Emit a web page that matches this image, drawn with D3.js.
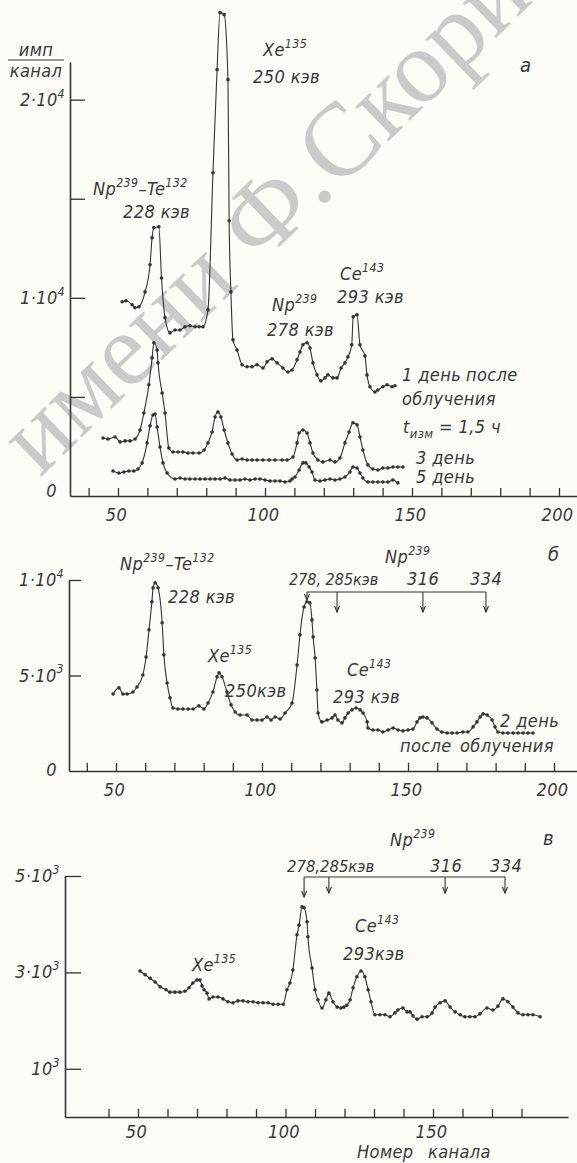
<!DOCTYPE html>
<html>
<head>
<meta charset="utf-8">
<script src="https://cdn.jsdelivr.net/npm/d3@7"></script>
<style>
body { margin: 0; background: #fdfcf7; }
svg { display: block; }
text { font-family: "DejaVu Sans Condensed", "DejaVu Sans", sans-serif; font-stretch: condensed; font-style: italic; fill: #383838; letter-spacing: 0.4px; }
.wm text { font-family: "Liberation Serif", serif; font-stretch: normal; font-style: normal; fill: #cacaca; letter-spacing: 0; }
</style>
</head>
<body>
<svg id="chart" width="577" height="1163"></svg>
<script>
// ---- data: [channel, counts per channel] ----
var aDay1 = [[51.4,9800],[52.7,9850],[54.8,9650],[55.8,9500],[57.1,9550],[59.2,10300],[60.9,11670],[61.6,13030],[62.2,13540],[63.9,13590],[64.8,11000],[66.0,9000],[67.7,8230],[69.4,8380],[71.1,8380],[72.8,8540],[74.5,8590],[76.2,8540],[77.6,8540],[78.9,8540],[80.6,9390],[82.3,16310],[83.7,21520],[84.7,24390],[86.1,24290],[87.4,21010],[87.8,13890],[88.4,10300],[89.1,7880],[90.5,7370],[92.2,6620],[93.9,6520],[95.6,6520],[97.3,6620],[99.3,6460],[100.7,6770],[102.4,6920],[104.1,6720],[106.1,6460],[107.8,6260],[109.2,6360],[110.9,6870],[111.9,7270],[112.9,7630],[114.3,7730],[115.3,7470],[116.3,6720],[117.7,6110],[119.0,5810],[120.4,5960],[121.4,6110],[123.1,5960],[124.5,5960],[125.9,6460],[127.2,6720],[128.2,7020],[129.5,7630],[130.0,9040],[131.3,9140],[132.3,7630],[134.0,7070],[134.7,6110],[135.7,5510],[137.4,5250],[138.4,5350],[140.1,5510],[141.5,5610],[143.2,5510],[144.2,5560]];

var aDay3 = [[44.9,2930],[46.6,2880],[49.0,2980],[50.7,2730],[52.4,2780],[54.1,2780],[55.8,2880],[57.5,3330],[58.8,4190],[60.5,5610],[61.6,6970],[62.2,7730],[63.3,7370],[63.6,6720],[65.0,5200],[66.0,4190],[67.3,2420],[68.7,2220],[70.4,2220],[72.1,2220],[73.8,2170],[75.5,2170],[77.6,2170],[79.3,2320],[80.6,2680],[82.0,3230],[83.0,3990],[84.0,4240],[85.0,3990],[86.1,3330],[87.4,2680],[88.8,2120],[90.5,1820],[92.2,1870],[93.9,1820],[95.6,1820],[97.3,1820],[99.3,1820],[101.4,1820],[103.4,1820],[105.8,1820],[107.5,1820],[109.5,1970],[110.9,2680],[111.6,3180],[112.9,3330],[114.3,3180],[115.3,2680],[116.3,2170],[118.0,1820],[119.7,1720],[122.1,1820],[123.8,1720],[125.5,1920],[127.2,2680],[128.6,3230],[129.9,3690],[131.3,3590],[132.3,2980],[133.3,2320],[135.0,1570],[136.7,1360],[138.4,1310],[140.1,1410],[141.8,1410],[143.5,1460],[145.2,1460],[146.9,1460]];

var aDay5 = [[48.3,1260],[50.3,1160],[52.0,1210],[53.7,1260],[55.4,1260],[56.8,1360],[58.2,1670],[59.9,2680],[60.9,3540],[61.9,4090],[62.6,4140],[63.3,3480],[64.3,2470],[65.3,1670],[66.7,1160],[69.4,860],[71.1,910],[72.8,860],[74.5,860],[76.2,860],[77.9,860],[79.6,860],[81.3,860],[83.0,860],[84.7,860],[86.4,910],[88.1,810],[89.8,810],[91.5,810],[93.2,860],[94.9,810],[96.6,860],[98.3,860],[100.0,810],[101.7,760],[103.4,760],[105.1,760],[106.8,710],[108.5,760],[109.2,860],[110.2,960],[111.6,1310],[112.9,1670],[113.9,1670],[115.0,1460],[116.0,1210],[117.0,810],[118.7,760],[120.4,810],[122.1,860],[123.8,810],[125.5,860],[127.2,960],[128.9,1210],[129.9,1460],[131.3,1410],[132.3,1160],[133.3,910],[135.0,710],[136.7,710],[138.4,710],[140.1,710],[141.8,710],[143.5,810],[145.2,660]];

var bDay2 = [[49.0,4030],[51.0,4350],[52.4,4030],[53.8,4030],[55.8,4140],[57.2,4400],[59.2,5030],[60.3,5970],[61.3,7390],[62.3,8860],[62.7,9590],[63.4,9850],[64.4,9590],[65.8,7760],[66.4,6080],[67.5,4610],[68.5,3830],[69.5,3300],[71.2,3250],[72.9,3250],[74.7,3250],[76.4,3250],[78.4,3410],[80.1,3250],[81.5,3560],[83.2,4140],[84.6,4930],[85.3,5140],[86.3,4930],[88.0,4140],[89.4,3460],[90.8,3090],[92.5,2930],[94.9,2930],[96.6,2670],[98.3,2670],[100.0,2670],[101.7,2830],[103.1,2670],[104.5,2830],[106.2,2720],[107.9,3040],[110.3,3560],[112.0,5550],[113.0,7130],[114.4,8590],[115.4,8860],[116.4,8800],[117.1,7910],[117.5,7020],[118.2,5920],[118.8,4240],[119.2,3040],[120.5,2570],[122.3,2670],[124.0,2780],[125.0,2930],[126.0,2670],[127.4,2520],[128.4,2780],[129.5,3040],[130.8,3200],[132.2,3300],[133.6,3200],[134.6,3040],[136.0,2570],[136.3,2250],[138.0,2150],[139.7,2150],[141.4,2040],[143.2,2150],[144.9,2250],[146.6,2150],[148.3,2100],[150.0,2150],[151.7,2200],[153.1,2570],[154.1,2780],[155.1,2830],[156.5,2780],[158.2,2520],[159.9,2200],[161.6,2040],[163.4,1990],[165.1,1990],[166.8,1990],[168.8,2040],[170.5,2040],[172.3,2310],[173.6,2570],[174.7,2830],[175.7,2990],[177.1,2930],[178.8,2670],[179.8,2310],[180.8,2040],[182.5,1990],[184.2,1990],[186.0,1990],[187.7,1990],[189.4,1990],[191.1,1990],[192.8,1990]];

var cSpec = [[50.7,3030],[52.4,2950],[54.1,2880],[55.8,2800],[57.5,2700],[59.5,2640],[60.8,2590],[62.5,2590],[64.2,2590],[65.9,2610],[67.3,2680],[68.6,2780],[70.0,2840],[71.0,2840],[71.7,2720],[72.4,2640],[73.4,2570],[74.1,2450],[75.4,2490],[77.1,2490],[78.8,2450],[80.5,2390],[82.2,2370],[83.9,2410],[85.6,2410],[87.3,2390],[89.0,2390],[90.7,2370],[92.4,2370],[94.1,2370],[95.8,2340],[97.5,2340],[99.2,2340],[100.5,2640],[101.5,2780],[102.5,3050],[103.9,3780],[104.6,3980],[105.6,4360],[106.3,4340],[107.3,4050],[107.6,3740],[109.0,3090],[110.0,2640],[111.0,2430],[112.4,2260],[113.7,2430],[114.7,2570],[116.1,2390],[117.5,2280],[118.8,2260],[119.8,2280],[120.8,2320],[121.9,2430],[122.9,2680],[124.2,2910],[125.6,3030],[126.9,2910],[128.0,2640],[129.0,2390],[130.3,2120],[132.0,2120],[133.7,2120],[135.4,2080],[137.1,2160],[138.1,2220],[139.8,2260],[141.2,2180],[142.2,2180],[143.2,2100],[144.6,2030],[146.3,2080],[148.0,2080],[149.7,2160],[150.7,2280],[152.4,2370],[154.1,2410],[155.8,2280],[157.5,2180],[159.2,2120],[160.8,2080],[162.5,2080],[164.2,2080],[165.9,2140],[168.3,2260],[170.3,2220],[172.0,2300],[173.7,2450],[175.4,2390],[177.1,2280],[178.8,2160],[180.5,2120],[182.2,2120],[183.9,2120],[186.3,2080]];

// Np239 line positions (channels) marked with arrows in panels б and в
var bArrows = [115.4, 125.7, 155.1, 176.7];
var cArrows = [106.3, 114.7, 154.1, 174.4];

var xTicksAB = [40,50,60,70,80,90,100,110,120,130,140,150,160,170,180,190,200];
var xTicksC = [40,50,60,70,80,90,100,110,120,130,140,150,160,170,180];
var yTicksA = [5000,10000,15000,20000];
var yTicksB = [5000,10000];
var yTicksC = [1000,3000,5000];
var yLabA = [[10000,"1·10","4"],[20000,"2·10","4"]];
var yLabB = [[5000,"5·10","3"],[10000,"1·10","4"]];
var yLabC = [[1000,"10","3"],[3000,"3·10","3"],[5000,"5·10","3"]];

var svg = d3.select("#chart");
var ink = "#333";
var fsz = 18;

// watermark of the scanned page
var wm = svg.append("g").attr("class","wm").attr("transform","translate(40,478) rotate(-44)");
wm.append("text").attr("x",-28).attr("y",0).attr("text-anchor","end").attr("font-size",104).text("ГГУ");
wm.append("text").attr("x",0).attr("y",0).attr("font-size",104).text("имени Ф.Скорины");

function rich(x, y, segs, size, anchor) {
  size = size || fsz;
  var t = svg.append("text").attr("x", x).attr("y", y)
    .attr("font-size", size).attr("text-anchor", anchor || "start");
  var shift = 0;
  segs.forEach(function(s) {
    var target = 0, txt = s, fs = size;
    if (s[0] == "^") { target = -0.45 * size; txt = s.slice(1); fs = 0.68 * size; }
    else if (s[0] == "_") { target = 0.3 * size; txt = s.slice(1); fs = 0.72 * size; }
    t.append("tspan").attr("dy", target - shift).attr("font-size", fs).text(txt);
    shift = target;
  });
  return t;
}

function panel(p) {
  var x = d3.scaleLinear().domain(p.xDom).range(p.xRange);
  var y = d3.scaleLinear().domain(p.yDom).range(p.yRange);

  var xAxis = d3.axisBottom(x).tickValues(p.xTicks).tickSize(-8).tickSizeOuter(0).tickPadding(p.xPad)
    .tickFormat(function(d) { return d % 50 == 0 ? d : ""; });
  var yAxis = d3.axisLeft(y).tickValues(p.yTicks).tickSize(-p.yTick).tickSizeOuter(0).tickFormat("");

  var gx = svg.append("g").attr("transform", "translate(0," + p.yRange[0] + ")").call(xAxis);
  var gy = svg.append("g").attr("transform", "translate(" + p.xRange[0] + ",0)").call(yAxis);
  [gx, gy].forEach(function(g) {
    g.select(".domain").attr("stroke", ink).attr("stroke-width", 1.6);
    g.selectAll(".tick line").attr("stroke", ink).attr("stroke-width", 1.3);
    g.selectAll(".tick text").attr("font-size", fsz).attr("fill", "#383838")
      .attr("font-family", null).attr("dx", -2);
  });

  p.yLab.forEach(function(l) {
    rich(p.xRange[0] - 5, y(l[0]) + 6, [l[1], "^" + l[2]], fsz, "end");
  });

  var line = d3.line().x(function(d) { return x(d[0]); }).y(function(d) { return y(d[1]); })
    .curve(d3.curveMonotoneX);
  p.series.forEach(function(s) {
    svg.append("path").datum(s).attr("d", line)
      .attr("fill", "none").attr("stroke", ink).attr("stroke-width", 1.1);
    svg.append("g").selectAll("circle").data(s).enter().append("circle")
      .attr("cx", function(d) { return x(d[0]); })
      .attr("cy", function(d) { return y(d[1]); })
      .attr("r", 1.8).attr("fill", ink);
  });

  if (p.arrows) {
    var by = p.bracketY;
    svg.append("line").attr("x1", x(p.arrows[0])).attr("x2", x(p.arrows[p.arrows.length - 1]))
      .attr("y1", by).attr("y2", by).attr("stroke", ink).attr("stroke-width", 1.1);
    p.arrows.forEach(function(c, i) {
      var ax = x(c), tip = by + (i == 0 ? p.firstLen : p.arrowLen);
      svg.append("line").attr("x1", ax).attr("x2", ax).attr("y1", by).attr("y2", tip)
        .attr("stroke", ink).attr("stroke-width", 1.1);
      svg.append("path").attr("d", "M" + (ax - 2.5) + "," + (tip - 6) + "L" + ax + "," + tip + "L" + (ax + 2.5) + "," + (tip - 6))
        .attr("fill", "none").attr("stroke", ink).attr("stroke-width", 1.1);
    });
  }
  return { x: x, y: y };
}

// ---- panel а ----
panel({
  xDom: [50 + (70 - 118) / 2.94, 50 + (577 - 118) / 2.94], xRange: [70, 577],
  yDom: [0, 21900], yRange: [496, 62],
  xTicks: xTicksAB, yTicks: yTicksA, yTick: 15, xPad: 12, yLab: yLabA,
  series: [aDay1, aDay3, aDay5]
});
svg.append("text").attr("x", 36).attr("y", 56).attr("font-size", fsz).attr("text-anchor", "middle").text("имп");
svg.append("line").attr("x1", 8).attr("x2", 64).attr("y1", 60).attr("y2", 60).attr("stroke", ink).attr("stroke-width", 1.2);
svg.append("text").attr("x", 36).attr("y", 77).attr("font-size", fsz).attr("text-anchor", "middle").text("канал");
rich(57, 497, ["0"], fsz, "end");
rich(93, 195, ["Np", "^239", "–Te", "^132"]);
rich(123, 218, ["228 кэв"]);
rich(263, 56, ["Xe", "^135"]);
rich(253, 83, ["250 кэв"]);
rich(520, 72, ["а"], 20);
rich(272, 311, ["Np", "^239"]);
rich(267, 336, ["278 кэв"]);
rich(340, 280, ["Ce", "^143"]);
rich(337, 303, ["293 кэв"]);
rich(402, 381, ["1 день"]);
rich(466, 381, ["после"]);
rich(402, 405, ["облучения"]);
rich(403, 433, ["t", "_изм", " = 1,5 ч"]);
rich(416, 464, ["3 день"]);
rich(416, 483, ["5 день"]);

// ---- panel б ----
panel({
  xDom: [50 + (69 - 116) / 2.92, 50 + (577 - 116) / 2.92], xRange: [69, 577],
  yDom: [0, 10000], yRange: [771, 580],
  xTicks: xTicksAB, yTicks: yTicksB, yTick: 12, xPad: 12, yLab: yLabB,
  series: [bDay2],
  arrows: bArrows, bracketY: 592, firstLen: 8, arrowLen: 20
});
rich(57, 776, ["0"], fsz, "end");
rich(120, 570, ["Np", "^239", "–Te", "^132"]);
rich(168, 603, ["228 кэв"]);
rich(208, 662, ["Xe", "^135"]);
rich(225, 697, ["250кэв"]);
rich(385, 563, ["Np", "^239"]);
rich(289, 585, ["278, 285кэв"], 16).style("letter-spacing", "0px");
rich(407, 585, ["316"]);
rich(470, 585, ["334"]);
rich(548, 561, ["б"], 20);
rich(347, 676, ["Ce", "^143"]);
rich(333, 703, ["293 кэв"]);
rich(500, 727, ["2 день"]);
rich(400, 752, ["после"]);
rich(460, 752, ["облучения"]);

// ---- panel в ----
panel({
  xDom: [50 + (65 - 138) / 2.95, 50 + (568 - 138) / 2.95], xRange: [65, 568],
  yDom: [0, 5000], yRange: [1117, 876],
  xTicks: xTicksC, yTicks: yTicksC, yTick: 16, xPad: 8, yLab: yLabC,
  series: [cSpec],
  arrows: cArrows, bracketY: 877, firstLen: 20, arrowLen: 16
});
rich(192, 971, ["Xe", "^135"]);
rich(390, 846, ["Np", "^239"]);
rich(543, 845, ["в"], 20);
rich(287, 872, ["278,285кэв"], 16.5).style("letter-spacing", "0px");
rich(430, 872, ["316"]);
rich(490, 872, ["334"]);
rich(355, 932, ["Ce", "^143"]);
rich(343, 960, ["293кэв"]);
rich(357, 1158, ["Номер"]);
rich(428, 1158, ["канала"]);
</script>
</body>
</html>
